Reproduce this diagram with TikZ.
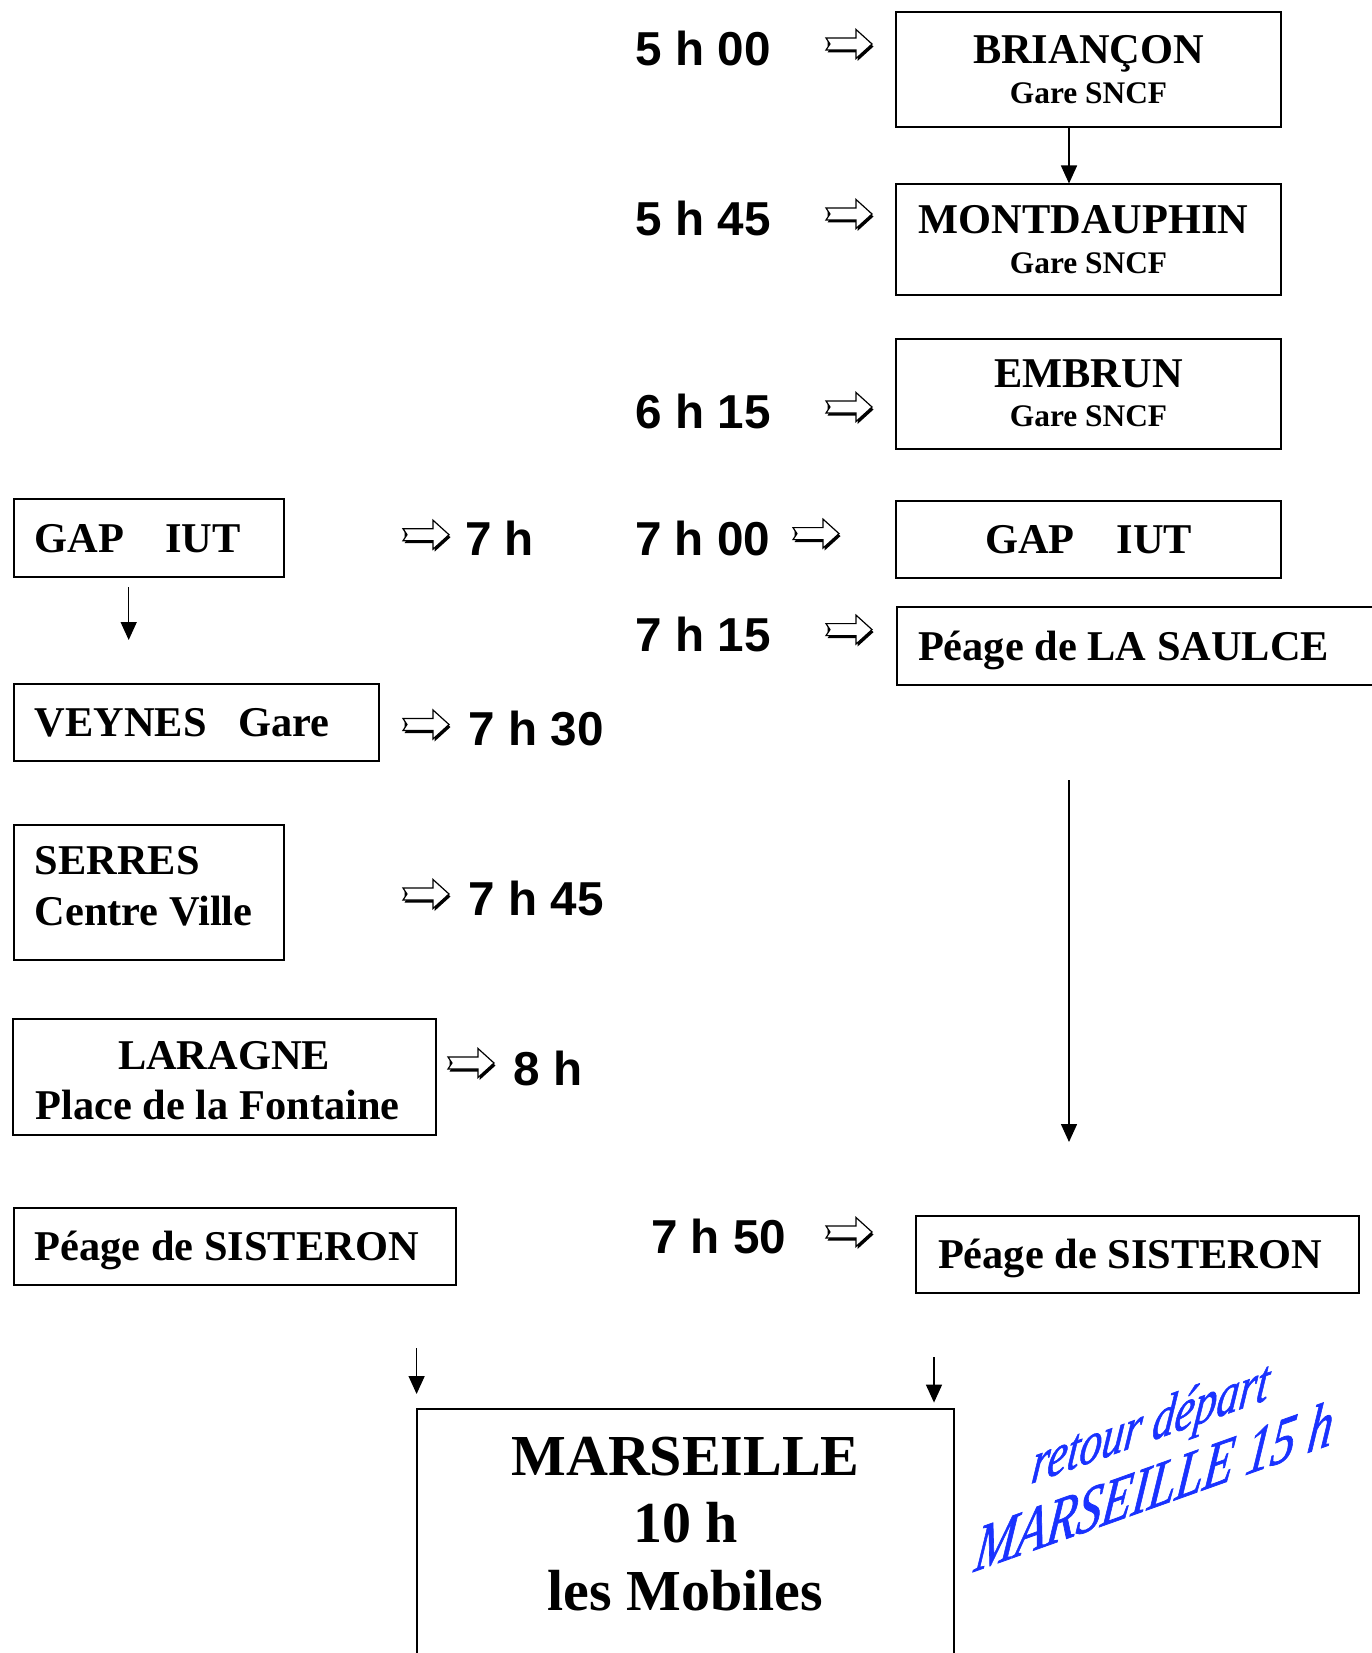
\documentclass[tikz,border=0pt]{standalone}
\usepackage{fontspec}
\setmainfont{Liberation Serif}
\newfontfamily\sansf{Liberation Sans}
\newfontfamily\wafont[FakeBold=1.2]{Liberation Serif}
\usetikzlibrary{arrows.meta}
\definecolor{wablue}{RGB}{25,50,255}
\tikzset{
  box/.style={draw, line width=2pt, inner sep=0pt},
  onebox/.style={box, text height=28pt, text depth=0pt},
  serifbig/.style={font=\bfseries\fontsize{42.4}{40}\selectfont},
  lbox/.style={anchor=north west, align=flush left, inner xsep=21pt},
  timelbl/.style={font=\sansf\bfseries\fontsize{47.6}{48}\selectfont, inner sep=0pt, anchor=west},
  conn/.style={line width=1.5pt, -{Triangle[length=18pt,width=16pt]}},
  wordart/.style={text=wablue, inner sep=0pt, anchor=base west, yslant=0.356, xslant=0.13, yscale=1.3},
  blockarrow/.pic={
    \fill[black] (1.5,2.5) -- ++(0,-6) -- ++(30,0) -- ++(0,-8.5) -- ++(16,14.5) -- ++(-16,14.5) -- ++(0,-8.5) -- ++(-30,0) -- ++(4,-6) -- cycle;
    \draw[line width=1.2pt, fill=white, line join=miter] (0,-6) -- (30,-6) -- (30,-14.5) -- (46,0) -- (30,14.5) -- (30,6) -- (0,6) -- (4,0) -- cycle;
  }
}
\begin{document}
\begin{tikzpicture}[x=1pt,y=-1pt]
\useasboundingbox (0,0) rectangle (1372,1653);

% right column boxes
\node[box, align=center, font=\bfseries\fontsize{42.4}{40}\selectfont, minimum width=385pt, minimum height=115pt] (brian) at (1088.5,69.5) {BRIANÇON\\{\fontsize{31.4}{40}\selectfont Gare SNCF}};
\node[box, align=center, font=\bfseries\fontsize{42.4}{40}\selectfont, minimum width=385pt, minimum height=110.5pt] (mont) at (1088.5,239.75) {MONTDAUPHIN\hspace*{10pt}\\{\fontsize{31.4}{40}\selectfont Gare SNCF}};
\node[box, align=center, font=\bfseries\fontsize{42.4}{39}\selectfont, minimum width=385pt, minimum height=110.5pt] (embrun) at (1088.5,393.75) {EMBRUN\\{\fontsize{31.4}{39}\selectfont Gare SNCF}};
\node[onebox, serifbig, minimum width=385pt, minimum height=77pt] (gapR) at (1088.5,539.5) {GAP\hspace{42pt}IUT};
\node[onebox, serifbig, lbox, text width=463pt, minimum height=78pt] (saulce) at (896,606) {Péage de LA SAULCE};
\node[onebox, serifbig, lbox, inner xsep=22pt, text width=399pt, minimum height=77pt] (sistR) at (915,1215) {Péage de SISTERON};

% left column boxes
\node[onebox, serifbig, lbox, text width=228pt, minimum height=78pt] (gapL) at (12.7,498) {GAP\hspace{41pt}IUT};
\node[onebox, serifbig, lbox, text width=323pt, minimum height=77pt] (veynes) at (12.7,683) {VEYNES\hspace{32pt}Gare};
\node[box, lbox, font=\bfseries\fontsize{42.4}{50.5}\selectfont, text width=228pt, text depth=63pt, minimum height=135pt] (serres) at (12.7,823.6) {SERRES\\Centre Ville};
\node[box, align=flush center, font=\bfseries\fontsize{42.4}{49.5}\selectfont, text width=380.8pt, inner xsep=21pt, text depth=42.3pt, minimum height=116pt] (laragne) at (224.1,1076.75) {LARAGNE\\Place de la Fontaine\rule{13pt}{0pt}};
\node[onebox, serifbig, lbox, text width=400pt, minimum height=77pt] (sistL) at (12.7,1206.5) {Péage de SISTERON};

% Marseille
\node[box, anchor=north, align=center, font=\bfseries\fontsize{58}{67.5}\selectfont, minimum width=537.8pt, inner ysep=28pt, text depth=250pt] (mars) at (685.5,1408) {MARSEILLE\\10 h\\les Mobiles};

% times
\node[timelbl] (t500) at (635.5,48.5) {5 h 00};
\node[timelbl] (t545) at (635.5,218.3) {5 h 45};
\node[timelbl] (t615) at (635.5,411) {6 h 15};
\node[timelbl] (t700) at (635,538) {7 h 00};
\node[timelbl] (t715) at (635.5,634) {7 h 15};
\node[timelbl] (t7h) at (465,538) {7 h};
\node[timelbl] (t730) at (468.5,729) {7 h 30};
\node[timelbl] (t745) at (468.5,898.5) {7 h 45};
\node[timelbl] (t8h) at (513.5,1068) {8 h};
\node[timelbl] (t750) at (651,1236) {7 h 50};

% block arrows
\coordinate (a500) at (826,44);
\coordinate (a545) at (826,214);
\coordinate (a615) at (826,407);
\coordinate (a700) at (793,533.6);
\coordinate (a715) at (826,629.6);
\coordinate (a7h) at (403,534.7);
\coordinate (a730) at (403,724.5);
\coordinate (a745) at (403,894);
\coordinate (a8h) at (448,1063);
\coordinate (a750) at (826,1232);
\foreach \c in {a500,a545,a615,a700,a715,a7h,a730,a745,a8h,a750}
  \pic at (\c) {blockarrow};

% connectors
\coordinate (cx) at (1069,0);
\draw[conn] (brian.south -| cx) -- (mont.north -| cx);
\coordinate (g1) at (128.7,587);
\coordinate (g2) at (128.7,640);
\draw[conn] (g1) -- (g2);
\coordinate (l1) at (1069,780);
\coordinate (l2) at (1069,1142);
\draw[conn] (l1) -- (l2);
\coordinate (m1) at (416.6,1348);
\coordinate (m2) at (416.6,1394);
\draw[conn] (m1) -- (m2);
\coordinate (m3) at (934,1357);
\coordinate (m4) at (934,1402.6);
\draw[conn] (m3) -- (m4);

% word art
\node[wordart, font=\wafont\itshape\fontsize{44.5}{44.5}\selectfont] (ret) at (1030,1484) {retour départ};
\node[wordart, font=\wafont\itshape\fontsize{49.5}{49.5}\selectfont] (mar15) at (973,1572) {MARSEILLE 15 h};
\end{tikzpicture}
\end{document}
